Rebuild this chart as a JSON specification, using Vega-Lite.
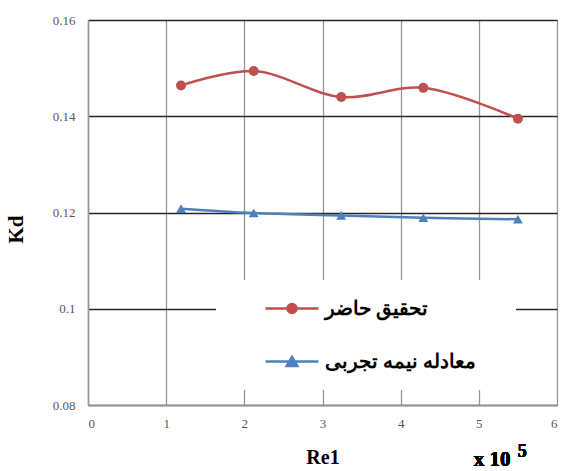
{
  "$schema": "https://vega.github.io/schema/vega-lite/v6.json",
  "width": 469,
  "height": 385,
  "autosize": {"type": "none"},
  "padding": {"left": 88, "top": 20, "right": 4, "bottom": 66},
  "background": "white",
  "config": {"view": {"stroke": null}},
  "data": {
    "values": [
      {"Re1": 1.19, "Kd": 0.1464, "series": "تحقیق حاضر"},
      {"Re1": 2.12, "Kd": 0.1494, "series": "تحقیق حاضر"},
      {"Re1": 3.24, "Kd": 0.1440, "series": "تحقیق حاضر"},
      {"Re1": 4.29, "Kd": 0.1459, "series": "تحقیق حاضر"},
      {"Re1": 5.50, "Kd": 0.1395, "series": "تحقیق حاضر"},
      {"Re1": 1.19, "Kd": 0.1208, "series": "معادله نیمه تجربی"},
      {"Re1": 2.12, "Kd": 0.1199, "series": "معادله نیمه تجربی"},
      {"Re1": 3.24, "Kd": 0.1194, "series": "معادله نیمه تجربی"},
      {"Re1": 4.29, "Kd": 0.1189, "series": "معادله نیمه تجربی"},
      {"Re1": 5.50, "Kd": 0.1186, "series": "معادله نیمه تجربی"}
    ]
  },
  "layer": [
    {
      "mark": {"type": "line", "interpolate": "catmull-rom", "strokeWidth": 2.5},
      "encoding": {
        "x": {
          "field": "Re1", "type": "quantitative",
          "scale": {"domain": [0, 6], "nice": false, "zero": false},
          "axis": {
            "values": [0, 1, 2, 3, 4, 5, 6], "format": "d",
            "grid": true, "gridColor": "#979797", "gridWidth": 1.3,
            "domainColor": "#979797", "domainWidth": 1.5, "ticks": false,
            "labelFont": "Liberation Serif", "labelFontSize": 13, "labelColor": "#595959", "labelPadding": 12,
            "title": "Re1", "titleFont": "Liberation Serif", "titleFontSize": 20, "titleFontWeight": "bold",
            "titleColor": "#000000", "titlePadding": 17
          }
        },
        "y": {
          "field": "Kd", "type": "quantitative",
          "scale": {"domain": [0.08, 0.16], "nice": false, "zero": false},
          "axis": {
            "values": [0.08, 0.1, 0.12, 0.14, 0.16], "format": "~g",
            "grid": true, "gridColor": "#262626", "gridWidth": 1.3,
            "domainColor": "#979797", "domainWidth": 1.5, "ticks": false,
            "labelFont": "Liberation Serif", "labelFontSize": 13, "labelColor": "#595959", "labelPadding": 13,
            "title": "Kd", "titleFont": "Liberation Serif", "titleFontSize": 21, "titleFontWeight": "bold",
            "titleColor": "#000000", "titlePadding": 26, "titleY": 209
          }
        },
        "color": {
          "field": "series", "type": "nominal",
          "scale": {"domain": ["تحقیق حاضر", "معادله نیمه تجربی"], "range": ["#C0504D", "#4F81BD"]},
          "legend": {
            "orient": "none", "legendX": 128, "legendY": 260,
            "padding": 2, "fillColor": "white", "strokeColor": null,
            "symbolSize": 2809, "symbolStrokeWidth": 2.5, "symbolOffset": 46,
            "labelOffset": 5, "labelLimit": 300, "rowPadding": 0, "clipHeight": 53,
            "labelFont": "Liberation Serif", "labelFontSize": 20, "labelFontWeight": "bold", "labelColor": "#000000",
            "title": "\u00a0", "titleOrient": "right", "titlePadding": 38, "titleFontSize": 4,
            "encode": {
              "symbols": {
                "update": {
                  "shape": {"signal": "datum.index === 0 ? 'M-1,0H1M-0.17,0A0.17,0.17,0,1,1,0.17,0A0.17,0.17,0,1,1,-0.17,0Z' : 'M-1,0H1M0,-0.17L0.2,0.17L-0.2,0.17Z'"},
                  "fill": {"signal": "datum.index === 0 ? '#C0504D' : '#4F81BD'"},
                  "stroke": {"signal": "datum.index === 0 ? '#C0504D' : '#4F81BD'"},
                  "strokeWidth": {"value": 2.5},
                  "opacity": {"value": 1}
                }
              }
            }
          }
        }
      }
    },
    {
      "transform": [{"filter": "datum.series === 'تحقیق حاضر'"}],
      "mark": {"type": "point", "filled": true, "size": 100, "opacity": 1, "shape": "circle"},
      "encoding": {
        "x": {"field": "Re1", "type": "quantitative"},
        "y": {"field": "Kd", "type": "quantitative"},
        "color": {"field": "series", "type": "nominal"}
      }
    },
    {
      "transform": [{"filter": "datum.series === 'معادله نیمه تجربی'"}],
      "mark": {"type": "point", "filled": true, "size": 100, "opacity": 1, "shape": "triangle-up"},
      "encoding": {
        "x": {"field": "Re1", "type": "quantitative"},
        "y": {"field": "Kd", "type": "quantitative"},
        "color": {"field": "series", "type": "nominal"}
      }
    },
    {
      "mark": {"type": "text", "font": "Liberation Serif", "fontSize": 21, "fontWeight": "bold", "align": "center", "baseline": "alphabetic", "dy": 61, "color": "#000000"},
      "encoding": {
        "x": {"datum": 5.17, "type": "quantitative"},
        "y": {"datum": 0.08, "type": "quantitative"},
        "text": {"value": "x 10"}
      }
    },
    {
      "mark": {"type": "text", "font": "Liberation Serif", "fontSize": 18, "fontWeight": "bold", "align": "center", "baseline": "alphabetic", "dy": 52, "color": "#000000"},
      "encoding": {
        "x": {"datum": 5.555, "type": "quantitative"},
        "y": {"datum": 0.08, "type": "quantitative"},
        "text": {"value": "5"}
      }
    }
  ]
}
